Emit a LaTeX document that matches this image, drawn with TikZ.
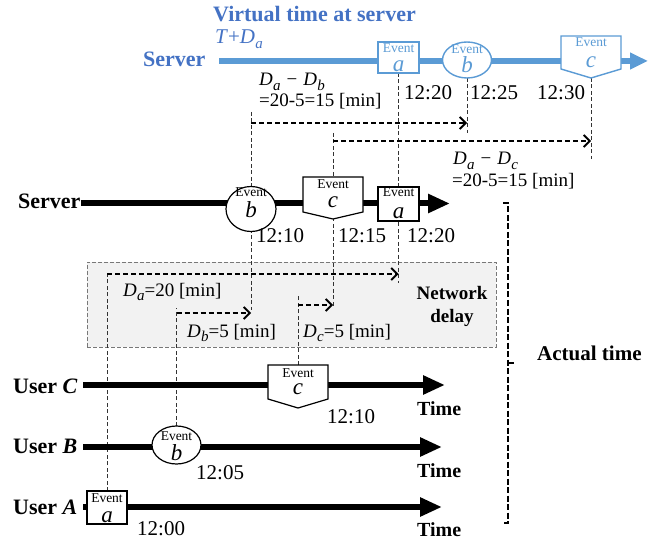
\documentclass[tikz,border=0pt]{standalone}
\usepackage{fontspec}
\setmainfont{Liberation Serif}
\usetikzlibrary{arrows.meta,calc,shapes.geometric}
\definecolor{vtitle}{RGB}{68,114,196}
\definecolor{vline}{RGB}{91,155,213}
\definecolor{boxfill}{RGB}{242,242,242}
\definecolor{boxedge}{RGB}{120,120,120}
\newcommand{\fsz}[1]{\fontsize{#1}{#1}\selectfont}
\newcommand{\Dv}[1]{\textit{D}\kern0.3pt\raisebox{-0.22em}{\fsz{15}\textit{#1}}}
\newcommand{\mgap}{\hspace{6pt}}

\begin{document}
\begin{tikzpicture}[x=1pt,y=-1pt,
  txt/.style={inner sep=0, anchor=base west},
  ctxt/.style={inner sep=0, anchor=base},
  timefont/.style={font=\fsz{21}},
  boldlbl/.style={font=\fsz{22}\bfseries},
  dlbl/.style={font=\fsz{19}},
  timeline/.style={line width=6pt, -{Triangle[length=22pt,width=18pt]}},
  vtimeline/.style={line width=6pt, draw=vline, -{Triangle[length=18pt,width=16pt]}},
  guide/.style={black!80, line width=0.9pt, dash pattern=on 4pt off 2.5pt},
  delayarrow/.style={line width=1.8pt, dash pattern=on 5pt off 3pt,
    -{Straight Barb[length=6pt,width=12pt,line width=1.8pt]}},
  bracket/.style={line width=2.2pt, dash pattern=on 6pt off 2.5pt},
  evell/.style={draw, fill=white, line width=1.2pt, inner sep=0, ellipse},
  evpent/.style={draw, fill=white, line width=1.2pt},
  evframe/.style={inner sep=0, outer sep=0, rectangle},
  evtag/.style={inner sep=0, anchor=base, font=\fsz{13.5}},
  evletter/.style={inner sep=0, anchor=base, font=\fsz{23}\itshape},
]
\useasboundingbox (0,0) rectangle (667,540);

% ---------- network delay area ----------
\node[draw=boxedge, fill=boxfill, line width=0.9pt, dash pattern=on 4pt off 2pt,
      inner sep=0, minimum width=409pt, minimum height=85pt] (net) at (291.5,304.5) {};
\node[ctxt, font=\fsz{19}\bfseries] (netA) at (452,300) {Network};
\node[ctxt, font=\fsz{19}\bfseries] (netB) at (452,322) {delay};

% ---------- event shapes (frames only, for names) ----------
\node[evframe, minimum width=41pt, minimum height=31pt] (va) at (398.5,57.5) {};
\node[evframe, minimum width=49pt, minimum height=36pt] (vb) at (467,60) {};
\node[evframe, minimum width=60pt, minimum height=33pt] (vc) at (591,52.5) {};
\coordinate (vctip) at (591,78);

\node[evframe, minimum width=50pt, minimum height=45pt] (sb) at (251,209) {};
\node[evframe, minimum width=60pt, minimum height=35pt] (sc) at (333,194.5) {};
\coordinate (sctip) at (333,219);
\node[evframe, minimum width=41pt, minimum height=34pt] (sa) at (398.5,204) {};

\node[evframe, minimum width=60pt, minimum height=34pt] (uc) at (298,382) {};
\coordinate (uctip) at (298,408);
\node[evframe, minimum width=49pt, minimum height=38pt] (ub) at (176.5,445) {};
\node[evframe, minimum width=40pt, minimum height=33pt] (ua) at (107,507.5) {};

% ---------- levels of the guide lines and delay arrows ----------
\coordinate (y-t1top) at (0,112);
\coordinate (y-t1) at (0,123);
\coordinate (y-t2top) at (0,133);
\coordinate (y-t2) at (0,141);
\coordinate (y-vbend) at (0,133);
\coordinate (y-vcend) at (0,159);
\coordinate (y-da) at (0,274);
\coordinate (y-daend) at (0,283);
\coordinate (y-dctop) at (0,295);
\coordinate (y-dc) at (0,305);
\coordinate (y-dcend) at (0,308);
\coordinate (y-dbtop) at (0,308);
\coordinate (y-db) at (0,313);
\coordinate (y-dbend) at (0,310);

% ---------- thin dashed guides ----------
\draw[guide] (va.south) -- (va.south |- y-daend);
\draw[guide] (vb.south) -- (vb.south |- y-vbend);
\draw[guide] (vctip) -- (vctip |- y-vcend);
\draw[guide] (sb.center |- y-t1top) -- (sb.center |- y-dbend);
\draw[guide] (sc.center |- y-t2top) -- (sc.center |- y-dcend);
\draw[guide] (ua.north) -- (ua.north |- y-da);
\draw[guide] (ub.north) -- (ub.north |- y-dbtop);
\draw[guide] (uc.north) -- (uc.north |- y-dctop);

% ---------- delay arrows ----------
\draw[delayarrow] (sb.center |- y-t1) -- (vb.center |- y-t1);
\draw[delayarrow] (sc.center |- y-t2) -- (vctip |- y-t2);
\draw[delayarrow] (ua.center |- y-da) -- (sa.center |- y-da);
\draw[delayarrow] (ub.center |- y-db) -- (sb.center |- y-db);
\draw[delayarrow] (uc.center |- y-dc) -- (sc.center |- y-dc);

% ---------- dashed bracket ----------
\coordinate (br1) at (503,203);
\coordinate (br2) at (508,203);
\coordinate (br3) at (508,523);
\coordinate (br4) at (502,523);
\coordinate (brm) at (508,363);
\coordinate (brt) at (516,363);
\draw[bracket] (br1) -- (br2) -- (br3) -- (br4);
\draw[bracket] (brm) -- (brt);
\node[txt, font=\fsz{21}\bfseries] (actual) at (537,360) {Actual time};

% ---------- virtual server timeline ----------
\node[txt, font=\fsz{22}\bfseries, text=vtitle] (vtitle) at (213,22) {Virtual time at server};
\node[txt, font=\fsz{21}, text=vtitle] (vexpr) at (215,44) {\textit{T}+\Dv{a}};
\node[txt, font=\fsz{22}\bfseries, text=vtitle] (vsrv) at (143,67) {Server};
\coordinate (vline-start) at (219,61);
\coordinate (vline-end) at (648,61);
\draw[vtimeline] (vline-start) -- (vline-end);

\draw[evpent, draw=vline, line width=1.4pt] (va.north west) rectangle (va.south east);
\node[evell, draw=vline, line width=1.4pt, minimum width=49pt, minimum height=36pt] (vbs) at (vb) {};
\draw[evpent, draw=vline, line width=1.4pt] (vc.north west) -- (vc.north east) -- (vc.south east) -- (vctip) -- (vc.south west) -- cycle;
\node[evtag, text=vline] (vaT) at (398.5,53) {Event};
\node[evletter, text=vline] (vaL) at (398.5,71.5) {a};
\node[evtag, text=vline] (vbT) at (467,54) {Event};
\node[evletter, text=vline] (vbL) at (467,73) {b};
\node[evtag, text=vline] (vcT) at (591,47) {Event};
\node[evletter, text=vline] (vcL) at (591,68) {c};

\node[txt, timefont] (t1220v) at (404,100) {12:20};
\node[txt, timefont] (t1225v) at (470,100) {12:25};
\node[txt, timefont] (t1230v) at (537,100) {12:30};

\node[txt, dlbl] (dab1) at (259,86) {\Dv{a}\mgap−\mgap\Dv{b}};
\node[txt, dlbl] (dab2) at (259,107) {=20-5=15 [min]};
\node[txt, dlbl] (dac1) at (453,165) {\Dv{a}\mgap−\mgap\Dv{c}};
\node[txt, dlbl] (dac2) at (452,187) {=20-5=15 [min]};

% ---------- actual server timeline ----------
\node[txt, boldlbl] (srv) at (18,209) {Server};
\coordinate (srv-end) at (450,203.5);
\draw[timeline] (srv.east |- srv-end) -- (srv-end);
\node[evell, minimum width=50pt, minimum height=45pt] (sbs) at (sb) {};
\draw[evpent] (sc.north west) -- (sc.north east) -- (sc.south east) -- (sctip) -- (sc.south west) -- cycle;
\draw[evpent] (sa.north west) rectangle (sa.south east);
\node[evtag] (sbT) at (251,197) {Event};
\node[evletter] (sbL) at (251,218) {b};
\node[evtag] (scT) at (333,189) {Event};
\node[evletter] (scL) at (333,208) {c};
\node[evtag] (saT) at (398.5,197) {Event};
\node[evletter] (saL) at (398.5,219) {a};

\node[txt, timefont] (t1210s) at (256,243) {12:10};
\node[txt, timefont] (t1215s) at (338,243) {12:15};
\node[txt, timefont] (t1220s) at (407,243) {12:20};

\node[txt, dlbl] (da) at (123,296) {\Dv{a}=20 [min]};
\node[txt, dlbl] (db) at (187,337) {\Dv{b}=5 [min]};
\node[txt, dlbl] (dc) at (303,337) {\Dv{c}=5 [min]};

% ---------- user timelines ----------
\node[txt, boldlbl] (userC) at (13,393) {User \textit{C}};
\node[txt, boldlbl] (userB) at (13,453) {User \textit{B}};
\node[txt, boldlbl] (userA) at (13,514) {User \textit{A}};
\coordinate (uc-start) at (83,385);
\coordinate (uc-end) at (445,385);
\coordinate (ub-start) at (83,447);
\coordinate (ub-end) at (442,447);
\coordinate (ua-start) at (83,507);
\coordinate (ua-end) at (442,507);
\draw[timeline] (uc-start) -- (uc-end);
\draw[timeline] (ub-start) -- (ub-end);
\draw[timeline] (ua-start) -- (ua-end);

\draw[evpent] (uc.north west) -- (uc.north east) -- (uc.south east) -- (uctip) -- (uc.south west) -- cycle;
\node[evell, minimum width=49pt, minimum height=38pt] (ubs) at (ub) {};
\draw[evpent] (ua.north west) rectangle (ua.south east);
\node[evtag] (ucT) at (298,377) {Event};
\node[evletter] (ucL) at (298,394) {c};
\node[evtag] (ubT) at (176.5,440) {Event};
\node[evletter] (ubL) at (176.5,460) {b};
\node[evtag] (uaT) at (107,502) {Event};
\node[evletter] (uaL) at (107,522) {a};

\node[txt, timefont] (t1210u) at (327,423) {12:10};
\node[txt, timefont] (t1205u) at (196,479) {12:05};
\node[txt, timefont] (t1200u) at (137,535.5) {12:00};

\node[txt, font=\fsz{20}\bfseries] (timeC) at (417,415) {Time};
\node[txt, font=\fsz{20}\bfseries] (timeB) at (417,477) {Time};
\node[txt, font=\fsz{20}\bfseries] (timeA) at (417,536) {Time};
\end{tikzpicture}
\end{document}
